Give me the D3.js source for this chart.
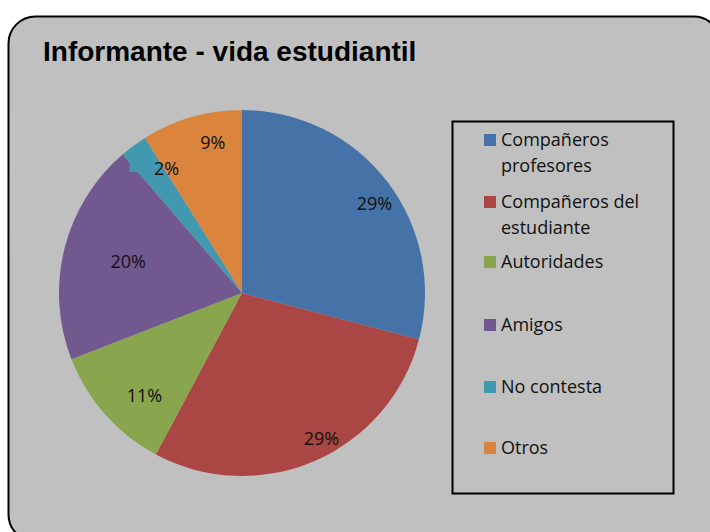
<!DOCTYPE html>
<html>
<head>
<meta charset="utf-8">
<script src="https://cdn.jsdelivr.net/npm/d3@7"></script>
<style>
  body { margin: 0; background: #fff; }
  svg { display: block; }
</style>
</head>
<body>
<svg id="chart" width="710" height="532"></svg>
<script>
const categories = ["Compañeros profesores", "Compañeros del estudiante", "Autoridades", "Amigos", "No contesta", "Otros"];
const legendLines = [["Compañeros", "profesores"], ["Compañeros del", "estudiante"], ["Autoridades"], ["Amigos"], ["No contesta"], ["Otros"]];
const values = [29.1, 28.7, 11.3, 19.6, 2.4, 8.9];
const pctLabels = ["29%", "29%", "11%", "20%", "2%", "9%"];
const colors = ["#4572A7", "#AA4643", "#89A54E", "#71588F", "#4198AF", "#DB843D"];

// label distance from centre and angle nudge in degrees (Excel best-fit look)
const labelR = [160, 166, 142, 118, 145, 153];
const labelDA = [3.5, -5, -5, 1.3, 5, 5];

var svg = d3.select("#chart");

svg.append("rect").attr("x", 8.5).attr("y", 16.5).attr("width", 712).attr("height", 525)
  .attr("rx", 27).attr("ry", 27)
  .attr("fill", "#C0C0C0").attr("stroke", "#000").attr("stroke-width", 2);

svg.append("text").attr("x", 43).attr("y", 61)
  .attr("font-family", "Liberation Sans, Arial, sans-serif")
  .attr("font-weight", "bold").attr("font-size", 28)
  .text("Informante - vida estudiantil");

const cx = 242, cy = 293, r = 183;

var pie = d3.pie().sort(null).value(function(d){ return d; });
var arcs = pie(values);
var arc = d3.arc().innerRadius(0).outerRadius(r);

var g = svg.append("g").attr("transform", "translate(" + cx + "," + cy + ")");

g.selectAll("path.slice").data(arcs).enter().append("path")
  .attr("class", "slice")
  .attr("d", arc)
  .attr("fill", function(d, i){ return colors[i]; });

function labelPos(d, i) {
  var a = (d.startAngle + d.endAngle) / 2 + labelDA[i] * Math.PI / 180;
  return [Math.sin(a) * labelR[i], -Math.cos(a) * labelR[i]];
}

// small leader mark for the thin slice
var tp = labelPos(arcs[4], 4);
g.append("path")
  .attr("d", "M" + (tp[0] - 37) + "," + (tp[1] - 9) + "L" + (tp[0] - 37) + "," + (tp[1] + 3) +
    "L" + (tp[0] - 26) + "," + (tp[1] + 3) + "L" + (tp[0] - 26) + "," + (tp[1] - 9) + "Z")
  .attr("fill", colors[4]);

g.selectAll("text.pct").data(arcs).enter().append("text")
  .attr("class", "pct")
  .attr("x", function(d, i){ return labelPos(d, i)[0]; })
  .attr("y", function(d, i){ return labelPos(d, i)[1]; })
  .attr("dy", "0.35em")
  .attr("text-anchor", "middle")
  .attr("font-family", "Open Sans, sans-serif").attr("font-size", 18)
  .attr("fill", "#111")
  .text(function(d, i){ return pctLabels[i]; });

// legend
svg.append("rect").attr("x", 452.5).attr("y", 121.5).attr("width", 221).attr("height", 372)
  .attr("fill", "none").attr("stroke", "#000").attr("stroke-width", 2);

const rowY = [140, 202, 262, 325, 387, 448];
var leg = svg.selectAll("g.leg").data(categories).enter().append("g")
  .attr("class", "leg")
  .attr("transform", function(d, i){ return "translate(484," + rowY[i] + ")"; });

leg.append("rect").attr("x", 0).attr("y", -6).attr("width", 12).attr("height", 12)
  .attr("fill", function(d, i){ return colors[i]; });

leg.append("text")
  .attr("x", 17).attr("y", 0)
  .attr("font-family", "Open Sans, sans-serif").attr("font-size", 18)
  .attr("fill", "#111")
  .each(function(d, i){
    var t = d3.select(this);
    legendLines[i].forEach(function(line, j){
      t.append("tspan").attr("x", 17).attr("y", j * 26).attr("dy", "0.35em").text(line);
    });
  });
</script>
</body>
</html>
